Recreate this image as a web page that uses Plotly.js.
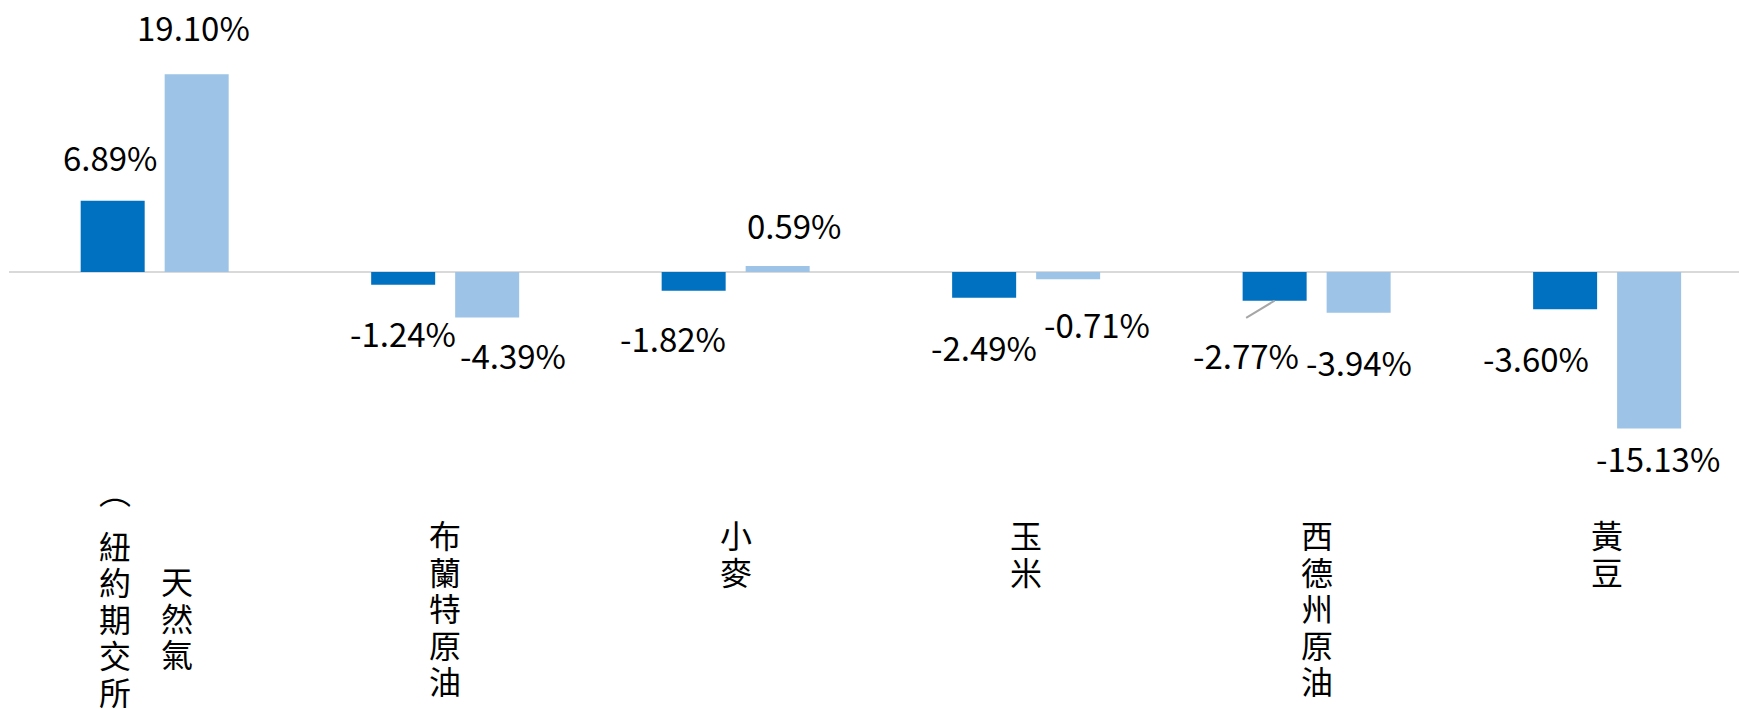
<!DOCTYPE html>
<html>
<head>
<meta charset="utf-8">
<script src="https://cdn.plot.ly/plotly-3.0.1.min.js"></script>
<style>html,body{margin:0;padding:0;background:#fff;}#chart{width:1739px;height:709px;}</style>
</head>
<body>
<div id="chart"></div>
<script>
// ---- data ----
const categories = ['天然氣（紐約期交所）', '布蘭特原油', '小麥', '玉米', '西德州原油', '黃豆'];
// vertical label columns (right column first)
const categoryColumns = [['天然氣', '︵紐約期交所︶'], ['布蘭特原油'], ['小麥'], ['玉米'], ['西德州原油'], ['黃豆']];
const seriesNames = ['系列1', '系列2'];
const series1 = [6.89, -1.24, -1.82, -2.49, -2.77, -3.60];
const series2 = [19.10, -4.39, 0.59, -0.71, -3.94, -15.13];

// ---- styling / label nudges (pixels) ----
const colors = ['#0070C0', '#9DC3E6'];
const FONT = '"Noto Sans CJK TC", "Noto Sans", sans-serif';
const slotHalf = 42;
const labelDx = [[-2, 0, -21, 0, -29, -29], [-3, 26, 17, 29, 0, 9]];
const labelDy = [[-44, 48, 47, 49, 54, 49], [-47, 38, -41, 45, 49, 29]]; // + = downward
const columnShift = [[22, -40]];
const columnFirstCenter = [[580, 508]];
const defaultFirstCenter = 534;
const charPitch = 36.6;
const glyphNudge = {'︵': -18, '︶': 18};

const allSeries = [series1, series2];
const traces = allSeries.map((vals, s) => ({
  type: 'bar', name: seriesNames[s], x: categories, y: vals,
  marker: {color: colors[s], line: {width: 0}}, hoverinfo: 'x+y', showlegend: false
}));

const annotations = [];
allSeries.forEach((vals, s) => {
  vals.forEach((v, i) => {
    annotations.push({
      x: categories[i], y: v, xref: 'x', yref: 'y',
      text: v.toFixed(2) + '%', showarrow: false,
      xshift: (s === 0 ? -slotHalf : slotHalf) + labelDx[s][i],
      yshift: -labelDy[s][i],
      xanchor: 'center', yanchor: 'middle',
      font: {family: FONT, size: 33, color: '#000'}
    });
  });
});
// leader line for -2.77%
annotations.push({
  x: categories[4], y: series1[4], xref: 'x', yref: 'y', xshift: -slotHalf,
  text: '', showarrow: true, arrowhead: 0, arrowwidth: 2, arrowcolor: '#a6a6a6',
  ax: -30, ay: 18, standoff: 0
});
// category labels (vertical stacked text, one character per annotation)
categoryColumns.forEach((cols, i) => {
  cols.forEach((txt, c) => {
    const shift = (columnShift[i] && columnShift[i][c] !== undefined) ? columnShift[i][c] : 0;
    const first = (columnFirstCenter[i] && columnFirstCenter[i][c] !== undefined) ? columnFirstCenter[i][c] : defaultFirstCenter;
    Array.from(txt).forEach((ch, k) => {
      const yc = first + k * charPitch + (glyphNudge[ch] || 0);
      annotations.push({
        x: categories[i], xref: 'x', y: 1 - yc / 709, yref: 'paper',
        text: ch, showarrow: false,
        xshift: shift, xanchor: 'center', yanchor: 'middle',
        font: {family: FONT, size: 32, color: '#000'}
      });
    });
  });
});

const pxPerUnit = 10.35, zeroY = 272, H = 709;
const layout = {
  width: 1739, height: 709,
  margin: {l: 9, r: 0, t: 0, b: 0},
  paper_bgcolor: '#fff', plot_bgcolor: '#fff',
  barmode: 'group', bargap: 0.4217, bargroupgap: 0.238,
  xaxis: {type: 'category', range: [-0.5015, 5.454], showticklabels: false, showgrid: false, zeroline: false, showline: false, ticks: ''},
  yaxis: {range: [-(H - zeroY) / pxPerUnit, zeroY / pxPerUnit], showticklabels: false, showgrid: false,
          zeroline: true, zerolinecolor: '#d9d9d9', zerolinewidth: 2, showline: false, ticks: ''},
  annotations: annotations,
  font: {family: FONT}
};
Plotly.newPlot('chart', traces, layout, {displayModeBar: false, staticPlot: true});
</script>
</body>
</html>
